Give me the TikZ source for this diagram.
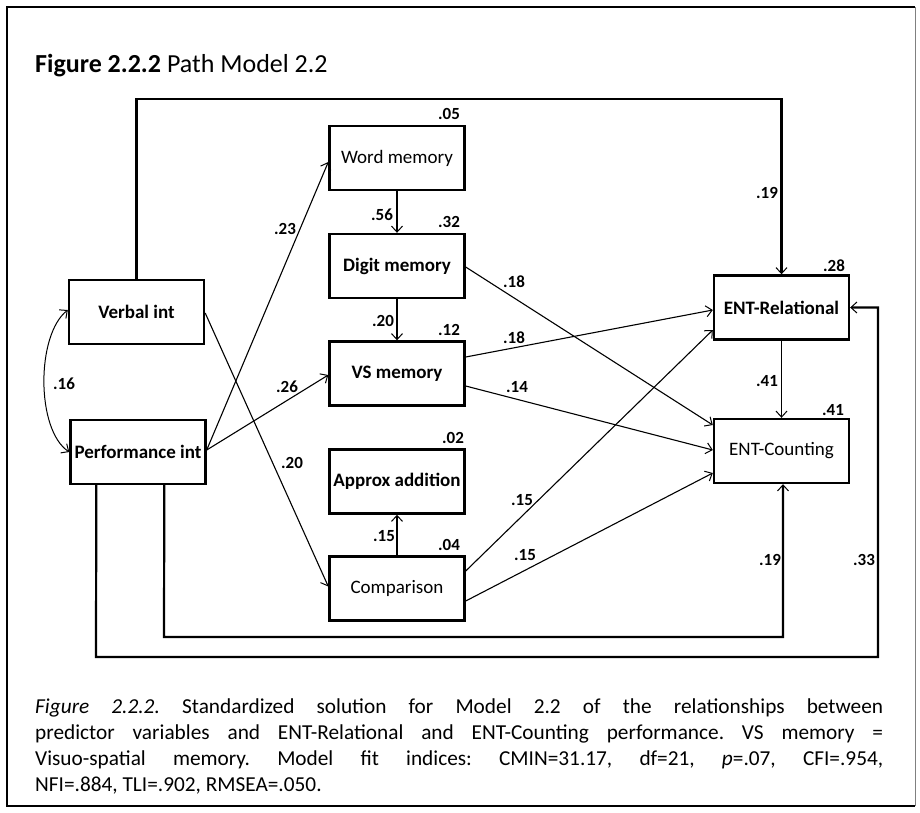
\documentclass[tikz,border=0pt]{standalone}
\usepackage{fontspec}
\setmainfont{Carlito}
\usetikzlibrary{arrows.meta,calc}
\frenchspacing
\begin{document}
\begin{tikzpicture}[x=1pt,y=-1pt,
  var/.style={draw, line width=2.4pt, minimum width=135pt, minimum height=64pt,
    inner sep=0pt, font=\fontsize{19}{22}\selectfont},
  varb/.style={var, font=\fontsize{19}{22}\selectfont\bfseries},
  tip/.style={-{Straight Barb[length=6pt,width=11pt,line width=1pt]}},
  link/.style={tip, line width=1.1pt},
  frame/.style={tip, line width=2.2pt},
  coef/.style={font=\fontsize{17}{19}\selectfont\bfseries, inner sep=0pt},
  capline/.style={anchor=base west, inner sep=0pt, font=\fontsize{21.3}{24}\selectfont}
]
\useasboundingbox (0,0) rectangle (920,812);

% page border
\draw[line width=2pt] (915,806) -- (7,806) -- (7,7) -- (915,7);
\draw[gray, line width=1pt] (915,7) -- (915,806);

% title
\node[anchor=base west, inner sep=0pt, font=\fontsize{26}{30}\selectfont]
  (title) at (35,72) {\textbf{Figure 2.2.2} Path Model 2.2};

% variables
\node[var]  (word)   at (397,158)   {Word memory};
\node[varb] (digit)  at (397,266)   {Digit memory};
\node[varb] (vs)     at (397,373.5) {VS memory};
\node[varb] (approx) at (397,481.5) {Approx addition};
\node[var]  (comp)   at (397,588.5) {Comparison};
\node[varb] (verbal) at (136.5,312) {Verbal int};
\node[varb] (perf)   at (138,452)   {Performance int};
\node[varb] (entrel) at (781.5,307.5) {ENT-Relational};
\node[var]  (entcnt) at (781.5,451) {ENT-Counting};

% long routed paths
\draw[frame] (verbal.north) -- (verbal.north |- 0,99) -- (entrel.north |- 0,99) -- (entrel.north);
\draw[frame] ($(perf.south west)+(27,0)$) -- (96,657) -- (878,657) -- (878,307.5) -- (entrel.east);
\draw[frame] ($(perf.south west)+(95,0)$) -- (164,637) -- (783,637) -- ($(entcnt.south)+(1.5,0)$);

% correlation between the intelligence measures
\draw[line width=1pt, {Straight Barb[length=6pt,width=11pt,line width=1pt]}-{Straight Barb[length=6pt,width=11pt,line width=1pt]}]
  ($(verbal.west)+(0,-2)$) .. controls (36,335) and (36,430) .. (perf.west);

% direct paths
\draw[link] ($(perf.east)+(0,-2)$) -- ($(word.west)+(0,4)$);
\draw[link] ($(perf.east)+(0,-2)$) -- ($(vs.west)+(0,1.5)$);
\draw[link] ($(verbal.east)+(0,1)$) -- ($(comp.west)+(0,-2)$);
\draw[link] (word.south) -- (digit.north);
\draw[link] (digit.south) -- (vs.north);
\draw[link] (comp.north) -- (approx.south);
\draw[link] ($(digit.east)+(0,1)$) -- ($(entcnt.west)+(0,-26)$);
\draw[link] ($(vs.east)+(0,-16.5)$) -- ($(entrel.west)+(0,2.5)$);
\draw[link] ($(vs.east)+(0,12.5)$) -- ($(entcnt.west)+(0,-1)$);
\draw[link] ($(comp.east)+(0,-17.5)$) -- ($(entrel.west)+(0,22.5)$);
\draw[link] ($(comp.east)+(0,12.5)$) -- ($(entcnt.west)+(0,22)$);
\draw[link] (entrel.south) -- (entcnt.north);

% squared multiple correlations
\node[coef] (r1) at (449,114) {.05};
\node[coef] (r2) at (449,222) {.32};
\node[coef] (r3) at (449,330) {.12};
\node[coef] (r4) at (453,438) {.02};
\node[coef] (r5) at (449,545) {.04};
\node[coef] (r6) at (834,266) {.28};
\node[coef] (r7) at (833,410) {.41};

% path coefficients
\node[coef] (c1)  at (382,215) {.56};
\node[coef] (c2)  at (383,321) {.20};
\node[coef] (c3)  at (384,536) {.15};
\node[coef] (c4)  at (64,384)  {.16};
\node[coef] (c5)  at (285,229) {.23};
\node[coef] (c6)  at (287,387) {.26};
\node[coef] (c7)  at (292,463) {.20};
\node[coef] (c8)  at (514,282) {.18};
\node[coef] (c9)  at (514,338) {.18};
\node[coef] (c10) at (517,387) {.14};
\node[coef] (c11) at (522,500) {.15};
\node[coef] (c12) at (525,555) {.15};
\node[coef] (c13) at (767,193) {.19};
\node[coef] (c14) at (767,381) {.41};
\node[coef] (c15) at (770,560) {.19};
\node[coef] (c16) at (864,560) {.33};

% caption
\node[capline] (cap1) at (35,713) {\makebox[848pt][s]{\textit{Figure 2.2.2.} Standardized solution for Model 2.2 of the relationships between}};
\node[capline] (cap2) at (35,739) {\makebox[848pt][s]{predictor variables and ENT-Relational and ENT-Counting performance. VS memory =}};
\node[capline] (cap3) at (35,765) {\makebox[848pt][s]{Visuo-spatial memory. Model fit indices: CMIN=31.17, df=21, \textit{p}=.07, CFI=.954,}};
\node[capline] (cap4) at (35,791) {NFI=.884, TLI=.902, RMSEA=.050.};
\end{tikzpicture}
\end{document}
